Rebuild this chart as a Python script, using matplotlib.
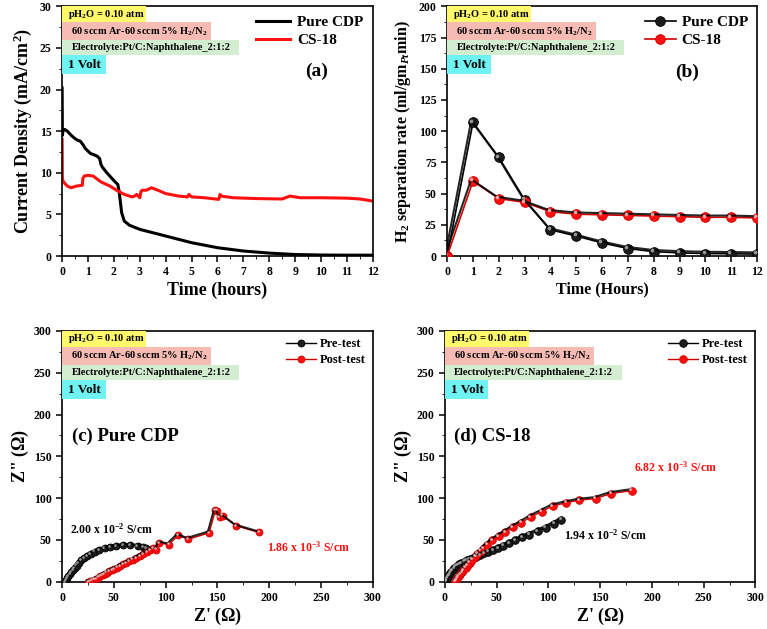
import numpy as np
import matplotlib
matplotlib.use('Agg')
import matplotlib.pyplot as plt
from matplotlib.patches import Rectangle
from matplotlib.ticker import MultipleLocator
from matplotlib.transforms import offset_copy

plt.rcParams.update({
    'font.family': ['Liberation Serif', 'DejaVu Serif'],
    'font.weight': 'bold',
    'axes.labelweight': 'bold',
    'mathtext.fontset': 'custom',
    'mathtext.rm': 'Liberation Serif:bold',
    'mathtext.it': 'Liberation Serif:italic:bold',
    'mathtext.bf': 'Liberation Serif:bold',
    'axes.linewidth': 1.2,
    'xtick.direction': 'out',
    'ytick.direction': 'out',
    'xtick.major.size': 4,
    'ytick.major.size': 4,
    'xtick.minor.size': 2.5,
    'ytick.minor.size': 2.5,
    'xtick.major.width': 1.1,
    'ytick.major.width': 1.1,
    'xtick.labelsize': 8.5,
    'ytick.labelsize': 8.5,
})

# ---- (a) chronoamperometry ----
t_cdp = [0.0, 0.01, 0.03, 0.1, 0.2, 0.35, 0.5, 0.6, 0.7, 0.8, 0.9, 1.0, 1.1, 1.2, 1.35,
         1.45, 1.5, 1.55, 1.7, 1.9, 2.05, 2.15, 2.2, 2.25, 2.3, 2.4, 2.6, 3.0, 3.5, 4.0,
         4.5, 5.0, 5.5, 6.0, 7.0, 8.0, 9.0, 10.0, 11.0, 12.0]
j_cdp = [20.2, 14.5, 15.0, 15.2, 15.0, 14.5, 14.1, 13.9, 13.8, 13.4, 12.9, 12.6, 12.3, 12.2, 12.0,
         11.7, 11.0, 10.7, 10.1, 9.4, 8.9, 8.6, 7.8, 6.5, 5.2, 4.2, 3.7, 3.2, 2.8, 2.4,
         2.0, 1.6, 1.3, 1.0, 0.6, 0.35, 0.18, 0.12, 0.1, 0.1]
t_cs18 = [0.0, 0.01, 0.05, 0.2, 0.35, 0.55, 0.78, 0.8, 0.85, 1.0, 1.2, 1.5, 1.85, 2.1, 2.4,
          2.7, 2.8, 2.88, 3.0, 3.05, 3.1, 3.25, 3.45, 3.7, 4.0, 4.5, 4.85, 4.9, 5.0, 5.5,
          6.05, 6.1, 6.15, 6.6, 7.5, 8.5, 8.8, 9.2, 10.0, 11.0, 11.5, 12.0]
j_cs18 = [14.0, 9.3, 8.9, 8.4, 8.2, 8.4, 8.5, 9.3, 9.6, 9.7, 9.6, 8.9, 8.4, 7.9, 7.4,
          7.1, 7.2, 7.4, 7.0, 7.8, 7.9, 7.9, 8.2, 7.9, 7.5, 7.2, 7.1, 7.4, 7.1, 7.0,
          6.8, 7.4, 7.2, 7.0, 6.9, 6.85, 7.2, 7.0, 7.0, 6.95, 6.85, 6.6]

# ---- (b) H2 separation rate ----
hours = [0, 1, 2, 3, 4, 5, 6, 7, 8, 9, 10, 11, 12]
rate_cdp = [0, 107, 79, 45, 21, 16, 10.5, 6, 3.5, 2.5, 2, 1.8, 1.5]
rate_cs18 = [0, 60, 46, 43, 35.5, 33.5, 33, 32.5, 32, 31.5, 31, 31, 30.5]

# ---- (c) Pure CDP impedance ----
c_pre_zr = [3, 4, 5, 6, 7.5, 9, 10.5, 12, 14, 16, 18.5, 21, 24, 27.5, 31.5, 36, 41, 46.5,
            52.5, 59, 66, 73, 78, 81]
c_pre_zi = [0, 2, 4, 6.5, 9, 11.5, 14, 16.5, 19.5, 22.5, 25.5, 28, 31, 33.5, 36, 38, 40, 41.5,
            42.5, 43.5, 43.5, 43, 41.5, 40]
c_post_zr = [25, 27, 29, 31, 33, 35, 37, 39, 41, 43, 45.5, 48, 50.5, 53, 56, 59, 62, 65, 68,
             71.5, 75, 78.5, 82, 85, 88, 91, 94, 103, 112, 122, 142, 148, 150, 152, 155, 168, 190]
c_post_zi = [0, 0.5, 1.5, 2.5, 3.5, 5, 6.5, 8, 9.5, 11, 12.5, 14, 15.5, 17, 19, 21, 22.5, 24.5,
             26.5, 28.5, 31, 33, 35.5, 38, 40, 38.6, 46.5, 44.5, 55.5, 51, 58.5, 85.5, 85, 77, 79,
             67, 59]

# ---- (d) CS-18 impedance ----
d_pre_zr = [1, 1.5, 2, 3, 4, 5, 6, 7.5, 9, 10.5, 12, 14, 16, 18.5, 21, 24, 27, 30.5, 34, 38,
            42, 46.5, 51.5, 56.5, 62, 68, 74.5, 81.5, 89.5, 97.5, 105.5, 112.5]
d_pre_zi = [0, 2, 4, 6, 8, 10, 12, 14, 16, 18, 19.5, 21, 22.5, 24, 25.5, 27, 28.5, 30, 32, 34,
            36, 38, 40.5, 43, 46, 49.5, 53, 56.5, 60.5, 64.5, 69.5, 74.5]
d_post_zr = [10, 11, 12, 13.5, 15, 16.5, 18, 20, 22, 24, 26.5, 29, 31.5, 34.5, 37.5, 41, 46,
             52, 58.5, 65.5, 73.5, 83, 93.5, 104, 117, 129.5, 145.5, 160.5, 180.5]
d_post_zi = [0, 2, 4, 6.5, 9, 11.5, 14, 17, 20, 23, 26.5, 30, 33.5, 37, 40.5, 44.5, 49.5,
             54.5, 59.5, 65, 70.5, 77.5, 84, 90.5, 94.5, 97.5, 99.5, 105.5, 109]

conditions = ['pH$_2$O = 0.10 atm', '60 sccm Ar-60 sccm 5% H$_2$/N$_2$',
              'Electrolyte:Pt/C:Naphthalene_2:1:2', '1 Volt']
box_colors = ['#FFF86A', '#F6BCB3', '#D3EDD1', '#6FF2F2']
box_widths = [0.27, 0.48, 0.57, 0.14]
box_rows = [(0.936, 0.064), (0.864, 0.072), (0.804, 0.060), (0.728, 0.076)]

RED = '#FF1010'


def condition_boxes(ax):
    for txt, col, w, (y0, h) in zip(conditions, box_colors, box_widths, box_rows):
        ax.add_patch(Rectangle((0, y0), w, h, transform=ax.transAxes, facecolor=col,
                               edgecolor='none', zorder=3, clip_on=False))
        fs = 9.5 if txt == '1 Volt' else 7.5
        x0 = 0.02 if txt.startswith('pH') or txt == '1 Volt' else 0.03
        ax.text(x0, y0 + h / 2, txt, transform=ax.transAxes, fontsize=fs,
                va='center', ha='left', zorder=4)


def sphere(ax, x, y, face, edge, hi, ms, line=True, lw=1.0, label=None):
    ax.plot(x, y, '-' if line else 'none', color=edge, lw=lw, marker='o', ms=ms,
            mfc=face, mec=edge, mew=0.6, label=label, zorder=5)
    tr = offset_copy(ax.transData, fig=ax.figure, x=-ms * 0.18, y=ms * 0.18, units='points')
    ax.plot(x, y, 'none', marker='o', ms=ms * 0.38, mfc=hi, mec='none', alpha=0.85,
            transform=tr, zorder=6)


def style_axes(ax, xmax, xmaj, xmin, ymax, ymaj, ymin):
    ax.set_xlim(0, xmax)
    ax.set_ylim(0, ymax)
    ax.xaxis.set_major_locator(MultipleLocator(xmaj))
    ax.xaxis.set_minor_locator(MultipleLocator(xmin))
    ax.yaxis.set_major_locator(MultipleLocator(ymaj))
    ax.yaxis.set_minor_locator(MultipleLocator(ymin))
    ax.tick_params(which='both', top=False, right=False)


fig = plt.figure(figsize=(7.67, 6.29), dpi=100)
ax_a = fig.add_axes([0.081, 0.593, 0.405, 0.397])
ax_b = fig.add_axes([0.583, 0.593, 0.404, 0.397])
ax_c = fig.add_axes([0.081, 0.075, 0.405, 0.399])
ax_d = fig.add_axes([0.580, 0.075, 0.405, 0.399])

# (a)
ax_a.plot(t_cdp, j_cdp, color='black', lw=2.2, label='Pure CDP')
ax_a.plot(t_cs18, j_cs18, color=RED, lw=2.2, label='CS-18')
style_axes(ax_a, 12, 1, 0.5, 30, 5, 2.5)
ax_a.set_xlabel('Time (hours)', fontsize=13, labelpad=2)
ax_a.set_ylabel('Current Density (mA/cm$^2$)', fontsize=13, labelpad=4)
ax_a.legend(loc='upper right', frameon=False, fontsize=11, handlelength=2.2,
            borderaxespad=0.2, labelspacing=0.3, handletextpad=0.5)
ax_a.text(0.82, 0.74, '(a)', transform=ax_a.transAxes, fontsize=14, ha='center', va='center')
condition_boxes(ax_a)

# (b)
sphere(ax_b, hours, rate_cdp, '#1c1c1c', 'black', '#b0b0b0', 7, lw=1.2, label='Pure CDP')
sphere(ax_b, hours, rate_cs18, RED, '#d00000', '#ffc0c0', 7, lw=1.2, label='CS-18')
style_axes(ax_b, 12, 1, 0.5, 200, 25, 12.5)
ax_b.set_xlabel('Time (Hours)', fontsize=11.5, labelpad=2)
ax_b.set_ylabel('H$_2$ separation rate (ml/gm$_{Pt}$min)', fontsize=11.5, labelpad=4)
ax_b.legend(loc='upper right', frameon=False, fontsize=11, handlelength=2.0,
            borderaxespad=0.2, labelspacing=0.3, handletextpad=0.4)
ax_b.text(0.775, 0.735, '(b)', transform=ax_b.transAxes, fontsize=14, ha='center', va='center')
condition_boxes(ax_b)

# (c)
sphere(ax_c, c_pre_zr, c_pre_zi, '#1c1c1c', 'black', '#b0b0b0', 5, label='Pre-test')
sphere(ax_c, c_post_zr, c_post_zi, RED, '#d00000', '#ffc0c0', 5, label='Post-test')
style_axes(ax_c, 300, 50, 25, 300, 50, 25)
ax_c.set_xlabel("Z' ($\\Omega$)", fontsize=13, labelpad=1)
ax_c.set_ylabel('Z" ($\\Omega$)', fontsize=13, labelpad=2)
ax_c.legend(loc='upper right', frameon=False, fontsize=9, handlelength=2.4,
            borderaxespad=0.2, labelspacing=0.3, handletextpad=0.3)
ax_c.text(10, 174, '(c) Pure CDP', fontsize=13.5, ha='left', va='center')
ax_c.text(8, 63, '2.00 x 10$^{-2}$ S/cm', fontsize=8.5, ha='left', va='center', color='black')
ax_c.text(198, 41, '1.86 x 10$^{-3}$ S/cm', fontsize=8.5, ha='left', va='center', color=RED)
condition_boxes(ax_c)

# (d)
sphere(ax_d, d_pre_zr, d_pre_zi, '#1c1c1c', 'black', '#b0b0b0', 5.5, label='Pre-test')
sphere(ax_d, d_post_zr, d_post_zi, RED, '#d00000', '#ffc0c0', 5.5, label='Post-test')
style_axes(ax_d, 300, 50, 25, 300, 50, 25)
ax_d.set_xlabel("Z' ($\\Omega$)", fontsize=13, labelpad=1)
ax_d.set_ylabel('Z" ($\\Omega$)', fontsize=13, labelpad=2)
ax_d.legend(loc='upper right', frameon=False, fontsize=9, handlelength=2.4,
            borderaxespad=0.2, labelspacing=0.3, handletextpad=0.3)
ax_d.text(9, 174, '(d) CS-18', fontsize=13.5, ha='left', va='center')
ax_d.text(183, 137, '6.82 x 10$^{-3}$ S/cm', fontsize=8.5, ha='left', va='center', color=RED)
ax_d.text(115, 56, '1.94 x 10$^{-2}$ S/cm', fontsize=8.5, ha='left', va='center', color='black')
condition_boxes(ax_d)

fig.savefig('out.png', dpi=100)
plt.close(fig)
